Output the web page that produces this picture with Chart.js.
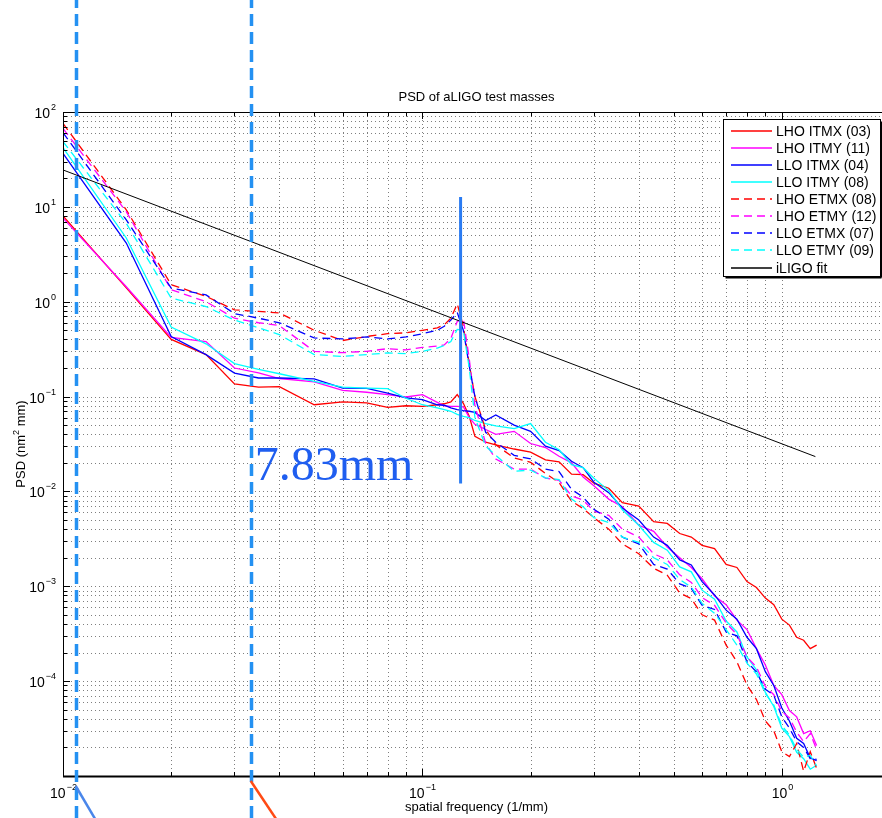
<!DOCTYPE html>
<html>
<head>
<meta charset="utf-8">
<title>PSD of aLIGO test masses</title>
<script src="https://cdn.jsdelivr.net/npm/chart.js@4.4.1/dist/chart.umd.min.js"></script>
<style>
  html, body { margin: 0; padding: 0; background: #fff; overflow: hidden; }
  #wrap { width: 900px; height: 818px; }
</style>
</head>
<body>
<div id="wrap"><canvas id="psdChart" width="900" height="818"></canvas></div>
<script>
// PSD of aLIGO test masses - log/log spectra of the 8 optics plus the iLIGO fit

// spatial frequency bins (1/mm)
const freq = [0.01, 0.015, 0.02, 0.025, 0.03, 0.035, 0.04, 0.05, 0.06, 0.07,
  0.08, 0.09, 0.10, 0.11, 0.115, 0.12, 0.125, 0.13, 0.135, 0.14,
  0.15, 0.16, 0.18, 0.20, 0.22, 0.24, 0.26, 0.28, 0.30, 0.33,
  0.36, 0.40, 0.44, 0.48, 0.52, 0.56, 0.60, 0.65, 0.70, 0.75,
  0.80, 0.85, 0.90, 0.95, 1.00, 1.05, 1.10, 1.15, 1.20, 1.25];

// PSD (nm^2 mm) per optic
const lhoItmx = [8.0, 1.4, 0.40, 0.277, 0.136, 0.126, 0.127, 0.082, 0.088, 0.086,
  0.077, 0.080, 0.079, 0.082, 0.084, 0.088, 0.105, 0.085, 0.062, 0.038,
  0.033, 0.031, 0.028, 0.026, 0.0215, 0.0205, 0.0152, 0.0150, 0.0122, 0.0108,
  0.0076, 0.0070, 0.0048, 0.0046, 0.0036, 0.0033, 0.0027, 0.0025, 0.0017, 0.00158,
  0.00112, 0.00097, 0.00075, 0.00064, 0.00045, 0.00039, 0.00029, 0.00027, 0.00022, 0.00024];
const lhoItmy = [7.6, 1.44, 0.42, 0.38, 0.20, 0.178, 0.155, 0.143, 0.116, 0.111,
  0.105, 0.099, 0.105, 0.087, 0.080, 0.079, 0.079, 0.078, 0.060, 0.051,
  0.045, 0.040, 0.043, 0.032, 0.029, 0.0235, 0.0200, 0.0142, 0.0115, 0.0083,
  0.0069, 0.0044, 0.0038, 0.0026, 0.0020, 0.00158, 0.00120, 0.00079, 0.00064, 0.00044,
  0.00035, 0.00022, 0.000148, 0.000090, 0.000072, 0.000049, 0.000042, 0.000028, 0.000030, 0.000021];
const lloItmx = [36.7, 4.15, 0.43, 0.277, 0.177, 0.157, 0.157, 0.154, 0.123, 0.122,
  0.109, 0.097, 0.093, 0.082, 0.081, 0.076, 0.073, 0.071, 0.070, 0.068,
  0.056, 0.064, 0.050, 0.043, 0.030, 0.027, 0.0208, 0.0178, 0.0125, 0.0097,
  0.0067, 0.0050, 0.0033, 0.0027, 0.0019, 0.00168, 0.00112, 0.00081, 0.00056, 0.00045,
  0.00029, 0.00022, 0.000126, 0.000090, 0.000052, 0.000038, 0.000025, 0.000022, 0.0000155, 0.0000145];
const lloItmy = [42, 4.7, 0.54, 0.36, 0.223, 0.193, 0.174, 0.145, 0.126, 0.123,
  0.121, 0.096, 0.082, 0.076, 0.073, 0.070, 0.065, 0.062, 0.060, 0.056,
  0.052, 0.049, 0.046, 0.052, 0.033, 0.0275, 0.0192, 0.0178, 0.0138, 0.0102,
  0.0064, 0.0044, 0.0029, 0.0024, 0.0016, 0.00142, 0.00091, 0.00073, 0.00043, 0.00033,
  0.00018, 0.000132, 0.000076, 0.000054, 0.000032, 0.000026, 0.0000178, 0.0000152, 0.0000118, 0.000013];
const lhoEtmx = [76, 9.3, 1.51, 1.14, 0.82, 0.79, 0.76, 0.50, 0.39, 0.43,
  0.46, 0.47, 0.50, 0.53, 0.57, 0.67, 0.95, 0.55, 0.22, 0.10,
  0.045, 0.031, 0.0225, 0.0203, 0.0155, 0.0124, 0.0079, 0.0066, 0.0053, 0.0040,
  0.0028, 0.0022, 0.00155, 0.00131, 0.00085, 0.00074, 0.00050, 0.00044, 0.00024, 0.00016,
  0.000091, 0.000064, 0.000038, 0.000030, 0.000018, 0.000016, 0.000022, 0.0000112, 0.000018, 0.000012];
const lhoEtmy = [67, 8.9, 1.34, 1.0, 0.67, 0.60, 0.56, 0.30, 0.29, 0.30,
  0.32, 0.31, 0.33, 0.34, 0.35, 0.41, 0.62, 0.66, 0.25, 0.08,
  0.032, 0.022, 0.0172, 0.0172, 0.0138, 0.0131, 0.0090, 0.0081, 0.0062, 0.0056,
  0.0040, 0.0033, 0.0022, 0.0019, 0.00132, 0.00110, 0.00076, 0.00063, 0.00041, 0.00031,
  0.00018, 0.000141, 0.000088, 0.000072, 0.000048, 0.000041, 0.000029, 0.000023, 0.000028, 0.000019];
const lloEtmx = [60.5, 7.3, 1.39, 1.18, 0.75, 0.67, 0.60, 0.415, 0.405, 0.425,
  0.405, 0.425, 0.46, 0.50, 0.55, 0.64, 0.77, 0.50, 0.21, 0.10,
  0.042, 0.033, 0.024, 0.022, 0.0172, 0.0162, 0.0105, 0.0087, 0.0065, 0.0051,
  0.0033, 0.0028, 0.0017, 0.00152, 0.00106, 0.00095, 0.00063, 0.00057, 0.00033, 0.00030,
  0.00016, 0.000125, 0.000082, 0.000071, 0.000042, 0.000032, 0.000023, 0.000020, 0.0000152, 0.000015];
const lloEtmy = [48.7, 6.7, 1.09, 0.89, 0.64, 0.53, 0.45, 0.277, 0.265, 0.277,
  0.288, 0.284, 0.30, 0.325, 0.346, 0.38, 0.51, 0.50, 0.20, 0.06,
  0.030, 0.024, 0.0163, 0.0168, 0.0139, 0.0133, 0.0083, 0.0069, 0.0053, 0.0047,
  0.0033, 0.0029, 0.0020, 0.0017, 0.00118, 0.00098, 0.00066, 0.00052, 0.00035, 0.00024,
  0.000155, 0.000119, 0.000074, 0.000056, 0.000034, 0.000027, 0.000019, 0.0000158, 0.0000165, 0.0000128];

// iLIGO power-law fit, end points
const fitFreq = [0.01, 1.24];
const fitPsd = [24.5, 0.0233];

// guide lines: dashed spatial frequencies and the 7.83 mm marker
const guideFreqs = [0.01085, 0.0333];
const markerWavelength = 7.83;          // mm
const markerPsdSpan = [12.7, 0.0121];

const X_MIN = 0.01, X_MAX = 2, Y_MIN = 1e-5, Y_MAX = 100;
const SANS = '"Liberation Sans", Arial, Helvetica, sans-serif';

const series = [
  { label: "LHO ITMX (03)", values: lhoItmx, color: "#ff0000", dashed: false },
  { label: "LHO ITMY (11)", values: lhoItmy, color: "#ff00ff", dashed: false },
  { label: "LLO ITMX (04)", values: lloItmx, color: "#0000ff", dashed: false },
  { label: "LLO ITMY (08)", values: lloItmy, color: "#00ffff", dashed: false },
  { label: "LHO ETMX (08)", values: lhoEtmx, color: "#ff0000", dashed: true },
  { label: "LHO ETMY (12)", values: lhoEtmy, color: "#ff00ff", dashed: true },
  { label: "LLO ETMX (07)", values: lloEtmx, color: "#0000ff", dashed: true },
  { label: "LLO ETMY (09)", values: lloEtmy, color: "#00ffff", dashed: true },
];

/**
 * Build 1..9 x 10^n tick values between min and max
 */
function logTicks(min, max) {
  const out = [];
  for (let e = Math.floor(Math.log10(min)); e <= Math.ceil(Math.log10(max)); e++) {
    for (let m = 1; m <= 9; m++) {
      const v = m * Math.pow(10, e);
      if (v >= min * 0.999 && v <= max * 1.001) out.push({ v, major: m === 1, exp: e });
    }
  }
  return out;
}

/**
 * Draw a "10^n" label; y is the baseline of the "10"
 */
function powerLabel(ctx, exp, x, y, align) {
  ctx.font = "14px " + SANS;
  const bw = ctx.measureText("10").width;
  const sup = exp < 0 ? "\u2212" + (-exp) : String(exp);
  ctx.font = "9px " + SANS;
  const sw = ctx.measureText(sup).width;
  const total = bw + 1 + sw;
  const left = align === "right" ? x - total : x - total / 2;
  ctx.textAlign = "left";
  ctx.textBaseline = "alphabetic";
  ctx.font = "14px " + SANS;
  ctx.fillText("10", left, y);
  ctx.font = "9px " + SANS;
  ctx.fillText(sup, left + bw + 1, y - 8);
}

function line(ctx, x1, y1, x2, y2) {
  ctx.beginPath();
  ctx.moveTo(x1, y1);
  ctx.lineTo(x2, y2);
  ctx.stroke();
}

const matlabFrame = {
  id: "matlabFrame",
  // dotted major + minor grid under the spectra
  beforeDatasetsDraw(chart) {
    const { ctx, chartArea: a, scales: { x, y } } = chart;
    ctx.save();
    ctx.strokeStyle = "rgba(0,0,0,0.5)";
    ctx.lineWidth = 1;
    ctx.setLineDash([1, 3]);
    logTicks(X_MIN, X_MAX).forEach((t) => {
      const px = Math.round(x.getPixelForValue(t.v)) + 0.5;
      line(ctx, px, a.top, px, a.bottom);
    });
    logTicks(Y_MIN, Y_MAX).forEach((t) => {
      const py = Math.round(y.getPixelForValue(t.v)) + 0.5;
      line(ctx, a.left, py, a.right, py);
    });
    ctx.restore();
  },
  afterDatasetsDraw(chart) {
    const { ctx, chartArea: a, scales: { x, y } } = chart;
    ctx.save();
    ctx.fillStyle = "#000";
    ctx.strokeStyle = "#000";
    ctx.setLineDash([]);

    // axes box
    ctx.lineWidth = 1;
    line(ctx, a.left + 0.5, a.top, a.left + 0.5, a.bottom + 1);
    line(ctx, a.left, a.top + 0.5, a.right, a.top + 0.5);
    ctx.lineWidth = 2;
    line(ctx, a.left, a.bottom + 0.5, a.right, a.bottom + 0.5);

    // inward ticks
    ctx.lineWidth = 1;
    logTicks(X_MIN, X_MAX).forEach((t) => {
      const px = Math.round(x.getPixelForValue(t.v)) + 0.5;
      const len = t.major ? 7 : 4;
      line(ctx, px, a.top, px, a.top + len);
      line(ctx, px, a.bottom, px, a.bottom - len);
      if (t.major) powerLabel(ctx, t.exp, px, a.bottom + 22, "center");
    });
    logTicks(Y_MIN, Y_MAX).forEach((t) => {
      const py = Math.round(y.getPixelForValue(t.v)) + 0.5;
      const len = t.major ? 7 : 4;
      line(ctx, a.left, py, a.left + len, py);
      if (t.major && t.exp > -5) powerLabel(ctx, t.exp, a.left - 7, py + 5, "right");
    });

    // title and axis labels
    const midX = (a.left + a.right) / 2;
    ctx.font = "13px " + SANS;
    ctx.textAlign = "center";
    ctx.fillText("PSD of aLIGO test masses", midX, a.top - 11);
    ctx.fillText("spatial frequency (1/mm)", midX, a.bottom + 35);

    ctx.save();
    ctx.translate(25, (a.top + a.bottom) / 2);
    ctx.rotate(-Math.PI / 2);
    ctx.textAlign = "left";
    const p1 = "PSD (nm", p2 = "2", p3 = " mm)";
    ctx.font = "13px " + SANS;
    const w1 = ctx.measureText(p1).width, w3 = ctx.measureText(p3).width;
    ctx.font = "9px " + SANS;
    const w2 = ctx.measureText(p2).width;
    const cx = -(w1 + w2 + w3) / 2;
    ctx.font = "13px " + SANS;
    ctx.fillText(p1, cx, 0);
    ctx.font = "9px " + SANS;
    ctx.fillText(p2, cx + w1, -6);
    ctx.font = "13px " + SANS;
    ctx.fillText(p3, cx + w1 + w2, 0);
    ctx.restore();

    drawLegend(chart);
    drawGuides(chart);
    ctx.restore();
  },
};

/**
 * Legend box in the upper right corner of the axes
 */
function drawLegend(chart) {
  const ctx = chart.ctx;
  const box = { left: 723.5, top: 119.5, right: 880.5, bottom: 276.5 };
  ctx.save();
  ctx.fillStyle = "#fff";
  ctx.fillRect(box.left, box.top, box.right - box.left, box.bottom - box.top);
  ctx.strokeStyle = "#000";
  ctx.lineWidth = 1;
  ctx.setLineDash([]);
  ctx.strokeRect(box.left, box.top, box.right - box.left, box.bottom - box.top);
  ctx.lineWidth = 2;
  line(ctx, box.left + 2, box.bottom + 1, box.right + 1, box.bottom + 1);
  line(ctx, box.right + 1, box.top + 2, box.right + 1, box.bottom + 1);

  ctx.font = "14px " + SANS;
  ctx.textAlign = "left";
  ctx.textBaseline = "alphabetic";
  chart.data.datasets.forEach((ds, i) => {
    const cy = Math.round(130.7 + i * 17.1);
    ctx.strokeStyle = ds.borderColor;
    ctx.lineWidth = 1.6;
    ctx.setLineDash(ds.borderDash || []);
    line(ctx, 731, cy, 772, cy);
    ctx.fillStyle = "#000";
    ctx.fillText(ds.label, 776, cy + 5);
  });
  ctx.restore();
}

/**
 * Blue guide lines drawn over the plot
 */
function drawGuides(chart) {
  const { ctx, chartArea: a, scales: { x, y } } = chart;
  const H = chart.height;
  ctx.save();

  // dashed frequency guides over the full page height
  ctx.strokeStyle = "#2491f2";
  ctx.lineWidth = 3.5;
  ctx.setLineDash([12, 6]);
  ctx.lineDashOffset = 4;
  guideFreqs.forEach((f) => {
    const px = Math.round(x.getPixelForValue(f)) + 0.5;
    line(ctx, px, 0, px, H);
  });
  ctx.setLineDash([]);

  // slanted strokes leaving the bottom of each guide
  const gx0 = x.getPixelForValue(guideFreqs[0]);
  const gx1 = x.getPixelForValue(guideFreqs[1]);
  ctx.lineWidth = 2.5;
  ctx.strokeStyle = "#4a86ea";
  line(ctx, gx0, a.bottom + 10, gx0 + 20, H + 2);
  ctx.strokeStyle = "#ff4a14";
  line(ctx, gx1, a.bottom + 5, gx1 + 26, H + 2);

  // 7.83 mm marker
  const mx = x.getPixelForValue(1 / markerWavelength);
  const yTop = y.getPixelForValue(markerPsdSpan[0]);
  const yBot = y.getPixelForValue(markerPsdSpan[1]);
  ctx.strokeStyle = "#2a7bf2";
  ctx.lineWidth = 3;
  line(ctx, mx, yTop, mx, yBot);

  ctx.fillStyle = "#1f5ef0";
  ctx.font = '48px "Liberation Serif", "Times New Roman", serif';
  ctx.textAlign = "left";
  ctx.textBaseline = "alphabetic";
  ctx.fillText(markerWavelength + "mm", gx1 + 4, yBot - 4);
  ctx.restore();
}

function toPoints(values) {
  return freq.map((f, i) => ({ x: f, y: values[i] }));
}

const datasets = series.map((s, i) => ({
  label: s.label,
  data: toPoints(s.values),
  borderColor: s.color,
  borderWidth: 1.3,
  borderDash: s.dashed ? [8, 5] : [],
  pointRadius: 0,
  tension: 0,
  fill: false,
  order: series.length - i + 1,
}));
datasets.push({
  label: "iLIGO fit",
  data: fitFreq.map((f, i) => ({ x: f, y: fitPsd[i] })),
  borderColor: "#000000",
  borderWidth: 1,
  borderDash: [],
  pointRadius: 0,
  tension: 0,
  fill: false,
  order: 0,
});

new Chart(document.getElementById("psdChart"), {
  type: "line",
  data: { datasets },
  options: {
    responsive: false,
    animation: false,
    devicePixelRatio: 1,
    layout: { padding: { left: 63, top: 112, right: 10, bottom: 42 } },
    plugins: {
      legend: { display: false },
      tooltip: { enabled: false },
      title: { display: false },
    },
    scales: {
      x: { type: "logarithmic", min: X_MIN, max: X_MAX, display: false },
      y: { type: "logarithmic", min: Y_MIN, max: Y_MAX, display: false },
    },
  },
  plugins: [matlabFrame],
});
</script>
</body>
</html>
